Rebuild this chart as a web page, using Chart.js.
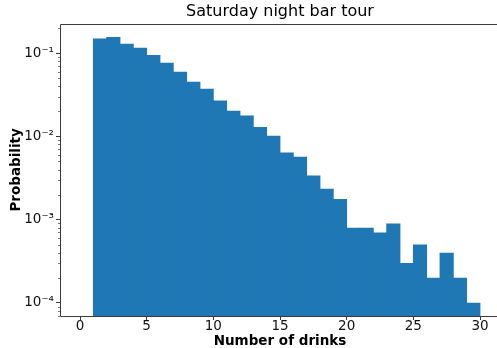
<!DOCTYPE html>
<html>
<head>
<meta charset="utf-8">
<script src="https://cdn.jsdelivr.net/npm/chart.js@4/dist/chart.umd.min.js"></script>
<style>
  html, body { margin: 0; padding: 0; background: #fff; overflow: hidden; }
  #wrap { width: 497px; height: 348px; overflow: hidden; }
  canvas { display: block; }
</style>
</head>
<body>
<div id="wrap"><canvas id="chart" width="502" height="348"></canvas></div>
<script>
// Histogram bins: each bar covers [start, start + 1) drinks
const binStarts = [1, 2, 3, 4, 5, 6, 7, 8, 9, 10, 11, 12, 13, 14, 15,
                   16, 17, 18, 19, 20, 21, 22, 23, 24, 25, 26, 27, 28, 29];
const probabilities = [0.151, 0.157, 0.1305, 0.117, 0.0955, 0.077, 0.060, 0.0455,
                       0.0375, 0.027, 0.0204, 0.0178, 0.0130, 0.0102, 0.0064, 0.0057,
                       0.0034, 0.00235, 0.00177, 0.0008, 0.0008, 0.0007, 0.0009,
                       0.0003, 0.0005, 0.0002, 0.0004, 0.0002, 0.0001];
const binWidth = 1;

const xTickValues = [0, 5, 10, 15, 20, 25, 30];
const yTickValues = [1e-4, 1e-3, 1e-2, 1e-1];
const yTickLabels = ['10\u207B\u2074', '10\u207B\u00B3', '10\u207B\u00B2', '10\u207B\u00B9'];

const FONT = 'DejaVu Sans';
const BAR_COLOR = '#1f77b4';
const SPINE = '#3a3a3a';

// Top, left and bottom spines plus log-scale minor ticks on the y axis
const axesFrame = {
  id: 'axesFrame',
  afterDatasetsDraw(chart) {
    const { ctx, chartArea: a, scales: { y } } = chart;
    const l = Math.round(a.left) + 0.5, r = a.right;
    const t = Math.round(a.top) + 0.5, b = Math.round(a.bottom) + 0.5;
    ctx.save();
    ctx.strokeStyle = SPINE;
    ctx.lineWidth = 1;
    ctx.beginPath();
    ctx.moveTo(r, t); ctx.lineTo(l, t); ctx.lineTo(l, b); ctx.lineTo(r, b);
    ctx.stroke();
    // minor ticks at 2..9 x 10^n
    ctx.strokeStyle = '#555';
    ctx.lineWidth = 0.8;
    for (let n = -6; n <= 0; n++) {
      for (let m = 2; m <= 9; m++) {
        const v = m * Math.pow(10, n);
        if (v < y.min || v > y.max) continue;
        const py = Math.round(y.getPixelForValue(v)) + 0.5;
        ctx.beginPath();
        ctx.moveTo(a.left - 2, py);
        ctx.lineTo(a.left, py);
        ctx.stroke();
      }
    }
    ctx.restore();
  }
};

new Chart(document.getElementById('chart'), {
  type: 'bar',
  data: {
    datasets: [{
      data: binStarts.map((s, i) => ({ x: s + binWidth / 2, y: probabilities[i] })),
      backgroundColor: BAR_COLOR,
      borderColor: BAR_COLOR,
      borderWidth: 0,
      barPercentage: 1.06,
      categoryPercentage: 1.0
    }]
  },
  options: {
    responsive: false,
    animation: false,
    devicePixelRatio: 1,
    layout: { padding: { left: 0, right: 2, top: 0, bottom: 0 } },
    plugins: {
      legend: { display: false },
      tooltip: { enabled: false },
      title: {
        display: true,
        fullSize: false,
        text: 'Saturday night bar tour',
        color: '#000',
        font: { family: FONT, size: 16, weight: 'normal', lineHeight: 1.2 },
        padding: { top: 2, bottom: 2.5 }
      }
    },
    scales: {
      x: {
        type: 'linear',
        offset: false,
        min: -1.5,
        max: 31.5,
        afterFit(scale) { scale.height = 32; },
        afterBuildTicks(scale) { scale.ticks = xTickValues.map(v => ({ value: v })); },
        border: { display: false },
        grid: { offset: false, drawOnChartArea: false, drawTicks: true, tickLength: 4, tickColor: SPINE, tickWidth: 1 },
        ticks: {
          color: '#111',
          padding: 0,
          maxRotation: 0,
          font: { family: FONT, size: 13.5, lineHeight: 1 },
          callback: v => String(v)
        },
        title: {
          display: true,
          text: 'Number of drinks',
          color: '#000',
          font: { family: FONT, size: 13.5, weight: 'bold', lineHeight: 1 },
          padding: { top: 0, bottom: 0 }
        }
      },
      y: {
        type: 'logarithmic',
        min: 6.92e-5,
        max: 0.227,
        afterFit(scale) { scale.width = 60; },
        afterBuildTicks(scale) { scale.ticks = yTickValues.map(v => ({ value: v })); },
        border: { display: false },
        grid: { drawOnChartArea: false, drawTicks: true, tickLength: 4, tickColor: SPINE, tickWidth: 1 },
        ticks: {
          color: '#111',
          padding: 2,
          font: { family: FONT, size: 13.5 },
          callback: v => {
            const i = yTickValues.findIndex(t => Math.abs(t - v) / t < 1e-6);
            return i >= 0 ? yTickLabels[i] : '';
          }
        },
        title: {
          display: true,
          text: 'Probability',
          color: '#000',
          font: { family: FONT, size: 13.5, weight: 'bold', lineHeight: 1.2 },
          padding: { top: 8, bottom: 0 }
        }
      }
    }
  },
  plugins: [axesFrame]
});
</script>
</body>
</html>
